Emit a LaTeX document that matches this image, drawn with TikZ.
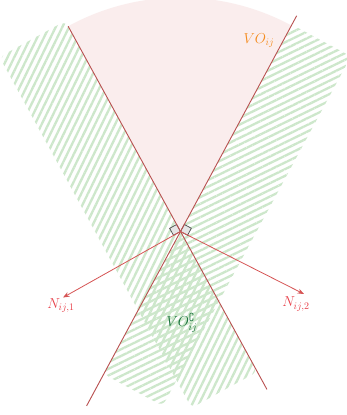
\documentclass[tikz,border=0pt]{standalone}
\usepackage{amssymb}
\usetikzlibrary{calc,patterns.meta,arrows.meta}
\definecolor{conefill}{RGB}{250,237,237}
\definecolor{coneline}{RGB}{185,80,80}
\definecolor{hatchgreen}{RGB}{205,231,203}
\definecolor{arrowred}{RGB}{214,84,84}
\definecolor{labelred}{RGB}{232,62,72}
\definecolor{voorange}{RGB}{245,140,30}
\definecolor{vogreen}{RGB}{25,115,60}
\begin{document}
\begin{tikzpicture}[x=1pt,y=-1pt,
  coneedge/.style={draw=coneline,line width=0.9pt},
  normalarrow/.style={draw=arrowred,line width=0.8pt,-{Stealth[length=6.5pt,width=5pt]}},
  rightmark/.style={draw=black!70,fill=black!10,line width=0.7pt},
  lbl/.style={font=\fontsize{14}{17}\selectfont,inner sep=0pt},
  hatchA/.style={pattern={Lines[angle=64,distance=6pt,line width=2.3pt]},pattern color=hatchgreen,rounded corners=6pt},
  hatchB/.style={pattern={Lines[angle=26,distance=6pt,line width=2.3pt]},pattern color=hatchgreen,rounded corners=6pt},
  ]
\useasboundingbox (0,0) rectangle (347,415);
\clip (0,0) rectangle (347,415);
\fill[white] (0,0) rectangle (347,415);
\coordinate (A) at (180.5,231.5);
% cone VO
\coordinate (P1) at ($(A)+(-118.7:234)$);
\coordinate (P2) at ($(A)+(61.3:180)$);
\coordinate (Q1) at ($(A)+(-61.7:245)$);
\coordinate (Q2) at ($(A)+(118.3:198)$);
\fill[conefill] (A) -- (P1) arc[start angle=-118.7, end angle=-61.7, radius=234] -- cycle;
% hatched strips
\path[hatchA] ($(A)+(-118.7:240)$) -- ($(A)+(-118.7:240)+(151.3:75)$) -- ($(A)+(61.3:160)+(151.3:75)$) -- ($(A)+(61.3:160)$) -- cycle;
\path[hatchB] ($(A)+(-61.7:235)$) -- ($(A)+(-61.7:235)+(28.3:67)$) -- ($(A)+(118.3:162)+(28.3:67)$) -- ($(A)+(118.3:162)$) -- cycle;
% right angle marks
\draw[rightmark] (A) -- ($(A)+(-118.7:8)$) -- ($(A)+(-118.7:8)+(151.3:8)$) -- ($(A)+(151.3:8)$) -- cycle;
\draw[rightmark] (A) -- ($(A)+(-61.7:8)$) -- ($(A)+(-61.7:8)+(28.3:8)$) -- ($(A)+(28.3:8)$) -- cycle;
% cone edges
\draw[coneedge] (P1) -- (P2);
\draw[coneedge] (Q1) -- (Q2);
% normals
\coordinate (N1) at (63,297.5);
\coordinate (N2) at (304,294);
\draw[normalarrow] (A) -- (N1);
\draw[normalarrow] (A) -- (N2);
% labels
\node[lbl,text=voorange] (vo) at (259,40.5) {$VO_{ij}$};
\node[lbl,text=vogreen] (voc) at (182,323) {$VO_{ij}^{\complement}$};
\node[lbl,text=labelred] (n1l) at (61,305.5) {$N_{ij,1}$};
\node[lbl,text=labelred] (n2l) at (296,304) {$N_{ij,2}$};
\end{tikzpicture}
\end{document}
